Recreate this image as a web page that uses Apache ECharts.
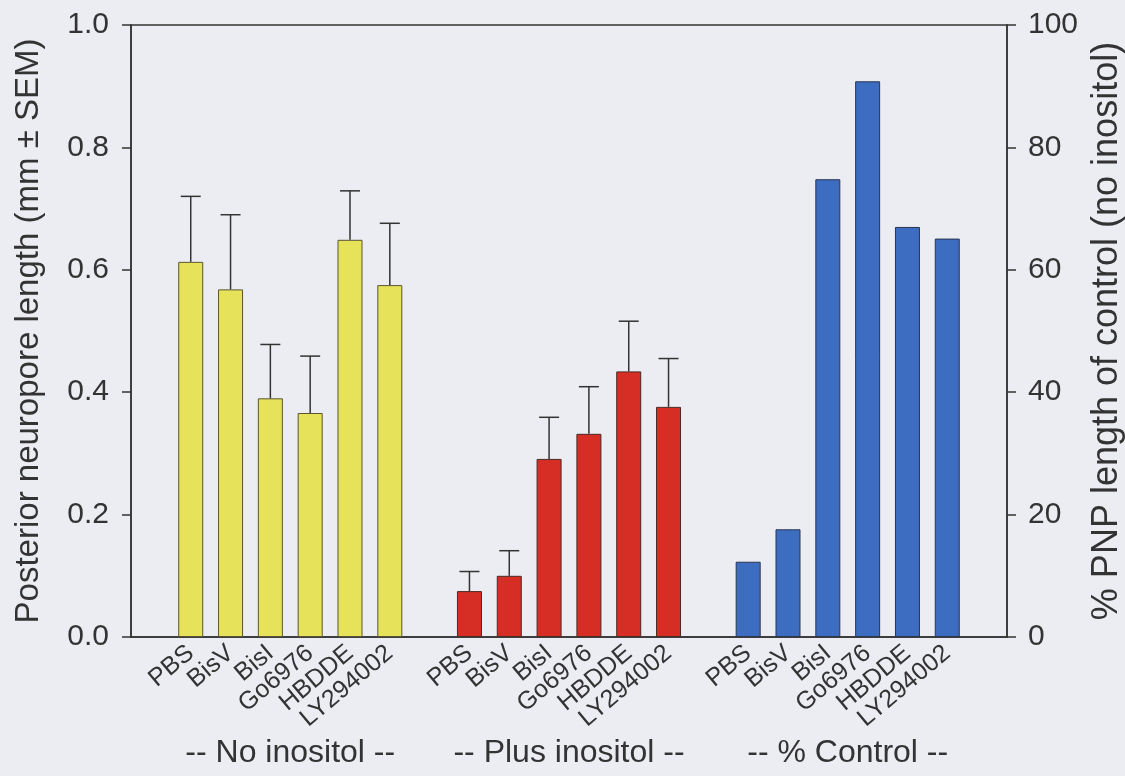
<!DOCTYPE html>
<html>
<head>
<meta charset="UTF-8">
<title>PNP length</title>
<style>
  html, body { margin: 0; padding: 0; background: #ececf3; }
  #main { width: 1125px; height: 776px; }
</style>
</head>
<body>
<div id="main"></div>
<script src="https://cdn.jsdelivr.net/npm/echarts@6/dist/echarts.min.js"></script>
<script>
// data
var groupNames = ['-- No inositol --', '-- Plus inositol --', '-- % Control --'];
var drugs = ['PBS', 'BisV', 'BisI', 'Go6976', 'HBDDE', 'LY294002'];
var noInositol = [0.613, 0.568, 0.390, 0.366, 0.649, 0.575];
var noInositolSem = [0.107, 0.122, 0.088, 0.093, 0.080, 0.101];
var plusInositol = [0.075, 0.100, 0.291, 0.332, 0.434, 0.376];
var plusInositolSem = [0.032, 0.041, 0.068, 0.077, 0.082, 0.079];
var pctControl = [12.3, 17.6, 74.8, 90.8, 67.0, 65.1];

var font = 'Liberation Sans, Arial, Helvetica, sans-serif';
var ink = '#333333';

// category slots: gap, 6 drugs, gap, 6 drugs, gap, 6 drugs, gap
var cats = [''];
var groupStart = [];
for (var g = 0; g < 3; g++) {
  groupStart.push(cats.length);
  for (var i = 0; i < drugs.length; i++) cats.push(drugs[i]);
  cats.push('');
}

function padGroup(vals, gi) {
  var out = [];
  for (var k = 0; k < cats.length; k++) out.push('-');
  for (var j = 0; j < vals.length; j++) out[groupStart[gi] + j] = vals[j];
  return out;
}

var errData = [];
for (var a = 0; a < drugs.length; a++) {
  errData.push([groupStart[0] + a, noInositol[a], noInositolSem[a]]);
  errData.push([groupStart[1] + a, plusInositol[a], plusInositolSem[a]]);
}

function renderErr(params, api) {
  var x = api.value(0), v = api.value(1), e = api.value(2);
  var base = api.coord([x, v]);
  var top = api.coord([x, v + e]);
  var half = 10;
  var st = { stroke: ink, lineWidth: 1.5 };
  return {
    type: 'group',
    children: [
      { type: 'line', shape: { x1: base[0], y1: base[1], x2: top[0], y2: top[1] }, style: st },
      { type: 'line', shape: { x1: top[0] - half, y1: top[1], x2: top[0] + half, y2: top[1] }, style: st }
    ]
  };
}

var chart = echarts.init(document.getElementById('main'));
var option = {
  backgroundColor: '#ececf3',
  animation: false,
  textStyle: { fontFamily: font, color: ink },
  grid: {
    left: 131, right: 118, top: 25, bottom: 139,
    outerBoundsMode: 'none', containLabel: false,
    show: true, borderColor: ink, borderWidth: 1.5, backgroundColor: 'transparent'
  },
  xAxis: {
    type: 'category',
    data: cats,
    axisTick: { show: false },
    axisLine: { lineStyle: { color: ink, width: 1.5 } },
    axisLabel: { interval: 0, rotate: 40, fontSize: 25, color: ink, margin: 13, fontFamily: font }
  },
  yAxis: [{
    type: 'value',
    min: 0, max: 1, interval: 0.2,
    name: 'Posterior neuropore length (mm \u00b1 SEM)',
    nameLocation: 'middle', nameRotate: 90, nameGap: 86,
    nameTextStyle: { fontSize: 33, color: ink, fontFamily: font },
    splitLine: { show: false },
    axisLine: { show: true, lineStyle: { color: ink, width: 1.5 } },
    axisTick: { show: true, length: 9, lineStyle: { color: ink, width: 1.5 } },
    axisLabel: { fontSize: 30, color: ink, margin: 22, fontFamily: font,
      formatter: function (v) { return v.toFixed(1); } }
  }, {
    type: 'value',
    position: 'right',
    min: 0, max: 100, interval: 20,
    name: '% PNP length of control (no inositol)',
    nameLocation: 'middle', nameRotate: 90, nameGap: 80,
    nameTextStyle: { fontSize: 36, color: ink, fontFamily: font },
    splitLine: { show: false },
    axisLine: { show: true, lineStyle: { color: ink, width: 1.5 } },
    axisTick: { show: true, length: 9, lineStyle: { color: ink, width: 1.5 } },
    axisLabel: { fontSize: 30, color: ink, margin: 21, fontFamily: font }
  }],
  series: [{
    name: 'No inositol', type: 'bar', barWidth: 25, barGap: '-100%',
    data: padGroup(noInositol, 0),
    itemStyle: { color: '#e6e25a', borderColor: '#5a5530', borderWidth: 1 }
  }, {
    name: 'Plus inositol', type: 'bar', barWidth: 25, barGap: '-100%',
    data: padGroup(plusInositol, 1),
    itemStyle: { color: '#d62e24', borderColor: '#4a2a25', borderWidth: 1 }
  }, {
    name: '% Control', type: 'bar', barWidth: 25, barGap: '-100%', yAxisIndex: 1,
    data: padGroup(pctControl, 2),
    itemStyle: { color: '#3d6dc0', borderColor: '#2a3550', borderWidth: 1 }
  }, {
    name: 'SEM', type: 'custom', renderItem: renderErr, z: 5,
    encode: { x: 0, y: 1 },
    data: errData
  }]
};
chart.setOption(option);

// group captions centred under each block of bars
var captions = [];
for (var c = 0; c < groupNames.length; c++) {
  var x0 = chart.convertToPixel({ xAxisIndex: 0 }, groupStart[c]);
  var x1 = chart.convertToPixel({ xAxisIndex: 0 }, groupStart[c] + drugs.length - 1);
  captions.push({
    type: 'text', x: (x0 + x1) / 2, y: 753,
    style: { text: groupNames[c], fontSize: 32, fill: ink, fontFamily: font,
      textAlign: 'center', textVerticalAlign: 'middle' }
  });
}
chart.setOption({ graphic: captions });
</script>
</body>
</html>
